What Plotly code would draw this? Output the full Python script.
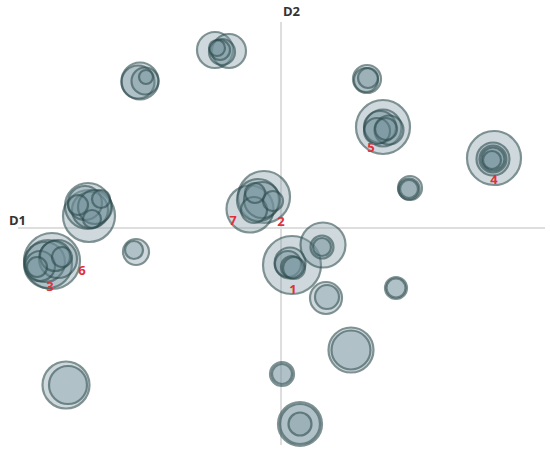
import plotly.graph_objects as go

# bubble positions on the D1 / D2 plane, and their diameters (px)
d1 = [
    -1.41, -1.43, -1.36, -1.35,                    # top left
    -0.66, -0.52, -0.59, -0.61, -0.64,             # top centre
    0.86, 0.85, 0.87,                              # top right small
    1.02, 1.02, 0.99, 1.08, 0.96, 1.05,            # 5
    2.13, 2.12, 2.12, 2.12, 2.11,                  # 4
    1.29, 1.28, 1.28,                              # small right
    -1.92, -1.93, -1.91, -1.96, -1.86, -2.03, -1.80, -1.89,   # left cluster
    -2.29, -2.33, -2.36, -2.23, -2.41, -2.26, -2.44, -2.19,   # 3 / 6
    -1.45, -1.47,                                  # small left
    -0.17, -0.31, -0.23, -0.19, -0.27, -0.08, -0.26,          # 7 / 2
    0.11, 0.09, 0.07, 0.11, 0.13,                  # 1
    0.42, 0.41, 0.41,
    0.45, 0.46,
    1.15, 1.15,
    0.70, 0.70,
    0.01, 0.01,
    0.19, 0.19, 0.19,
    -2.15, -2.13,
]
d2 = [
    1.47, 1.46, 1.47, 1.51,
    1.78, 1.77, 1.76, 1.78, 1.80,
    1.49, 1.48, 1.50,
    1.01, 1.00, 1.01, 0.98, 0.97, 0.99,
    0.70, 0.69, 0.69, 0.69, 0.68,
    0.40, 0.39, 0.39,
    0.12, 0.22, 0.18, 0.25, 0.21, 0.23, 0.29, 0.09,
    -0.33, -0.36, -0.34, -0.31, -0.38, -0.28, -0.39, -0.29,
    -0.24, -0.22,
    0.31, 0.19, 0.28, 0.28, 0.18, 0.27, 0.35,
    -0.37, -0.35, -0.36, -0.39, -0.40,
    -0.17, -0.19, -0.19,
    -0.70, -0.69,
    -0.60, -0.60,
    -1.22, -1.22,
    -1.46, -1.46,
    -1.96, -1.96, -1.96,
    -1.57, -1.57,
]
diam = [
    37, 33, 27, 14,
    36, 34, 26, 20, 16,
    28, 24, 20,
    54, 37, 32, 29, 26, 22,
    54, 33, 27, 23, 18,
    24, 21, 18,
    52, 46, 36, 34, 34, 20, 18, 18,
    56, 48, 40, 38, 30, 30, 20, 20,
    26, 18,
    52, 47, 42, 36, 26, 20, 20,
    58, 31, 26, 22, 22,
    45, 23, 18,
    32, 24,
    22, 19,
    45, 39,
    24, 20,
    44, 40, 23,
    47, 38,
]

# red cluster numbers
lab_text = ["1", "2", "7", "3", "6", "5", "4"]
lab_d1 = [0.12, 0.00, -0.48, -2.31, -1.99, 0.90, 2.13]
lab_d2 = [-0.63, 0.05, 0.06, -0.60, -0.44, 0.79, 0.47]

fig = go.Figure()

fig.add_trace(go.Scatter(
    x=d1, y=d2, mode="markers",
    marker=dict(
        size=diam,
        color="rgba(120,150,160,0.5)",
        line=dict(color="rgba(45,75,77,0.85)", width=2.2),
    ),
    cliponaxis=False,
    hoverinfo="skip",
    showlegend=False,
))

fig.add_trace(go.Scatter(
    x=lab_d1, y=lab_d2, mode="text",
    text=[f"<b>{t}</b>" for t in lab_text],
    textfont=dict(family="Open Sans", size=13, color="#e0303a"),
    textposition="middle center",
    cliponaxis=False,
    hoverinfo="skip",
    showlegend=False,
))

axis = dict(
    showgrid=False, showticklabels=False, ticks="",
    zeroline=True, zerolinecolor="#dedede", zerolinewidth=1.5,
    showline=False, fixedrange=True,
)

fig.update_layout(
    width=550, height=453,
    margin=dict(l=18, r=5, t=22, b=8),
    paper_bgcolor="white", plot_bgcolor="white",
    xaxis=dict(axis, range=[-2.63, 2.64]),
    yaxis=dict(axis, range=[-2.17, 2.06]),
    annotations=[
        dict(text="<b>D1</b>", xref="paper", yref="y", x=-0.021, y=0.08,
             xanchor="left", yanchor="middle", showarrow=False,
             font=dict(family="Open Sans", size=13, color="#333333")),
        dict(text="<b>D2</b>", xref="x", yref="paper", x=0.0, y=1.025,
             xanchor="left", yanchor="middle", showarrow=False,
             font=dict(family="Open Sans", size=13, color="#333333")),
    ],
)

# drop the page's default body margin so the figure sits at the top-left corner
fig.write_html("out.html", config={"displayModeBar": False},
               post_script="document.body.style.margin='0';")
